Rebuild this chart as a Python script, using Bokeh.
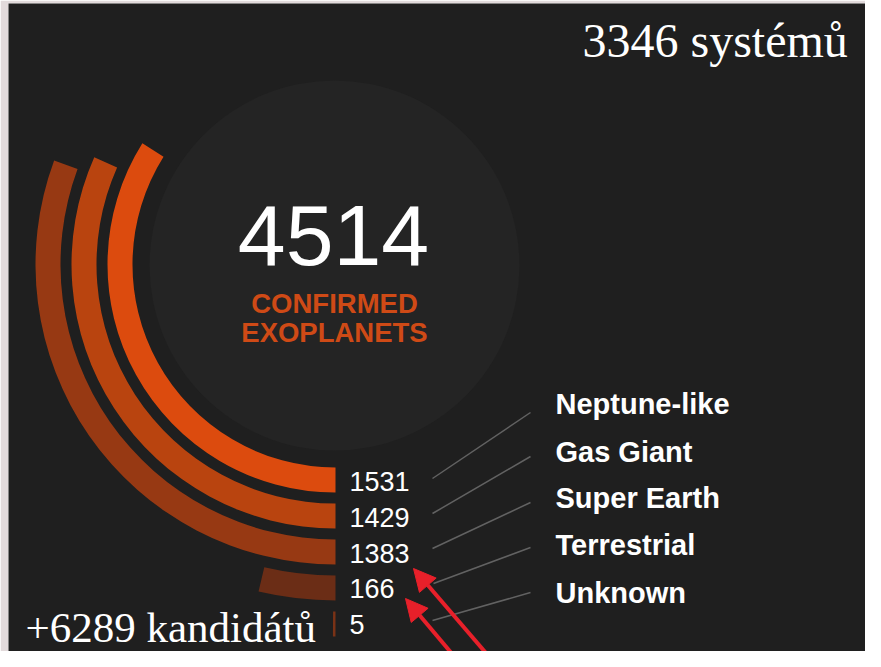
import math
from bokeh.plotting import figure
from bokeh.models import Range1d, Arrow, NormalHead, ColumnDataSource
from bokeh.core.properties import value
from bokeh.embed import file_html
from bokeh.resources import INLINE

# ---- data ----
categories = ["Neptune-like", "Gas Giant", "Super Earth", "Terrestrial", "Unknown"]
counts = [1531, 1429, 1383, 166, 5]
total_confirmed = 4514
systems_label = "3346 systémů"
candidates_label = "+6289 kandidátů"
headline = ["CONFIRMED", "EXOPLANETS"]

bar_colors = ["#dc4b0e", "#b9440f", "#973913", "#6b2d16", "#7a3216"]

W, H = 865, 651
BL, BT = 8, 3  # light page strip seen at left/top of the reference


def Y(yref):
    return 667 - yref


p = figure(width=W, height=H,
           x_range=Range1d(BL, W), y_range=Range1d(Y(H), Y(BT)),
           output_backend="svg", toolbar_location=None,
           min_border_left=BL, min_border_top=BT, min_border_right=0, min_border_bottom=0,
           x_axis_location=None, y_axis_location=None,
           background_fill_color="#1f1f1f", border_fill_color="#e2dadb",
           outline_line_color=None)
p.grid.visible = False

cx, cy = 335, Y(264)

# inner disc
p.circle(x=[334], y=[Y(265)], radius=185, fill_color="#242424", line_color=None)

# radial bars
inner = [203 + 36 * i for i in range(len(counts))]
outer = [r + 25 for r in inner]
spans = [c / total_confirmed * 2 * math.pi for c in counts]
src = ColumnDataSource(dict(
    x=[cx] * len(counts), y=[cy] * len(counts),
    inner=inner, outer=outer,
    start=[-math.pi / 2 - s for s in spans],
    end=[-math.pi / 2] * len(counts),
    color=bar_colors,
))
p.annular_wedge(x="x", y="y", inner_radius="inner", outer_radius="outer",
                start_angle="start", end_angle="end", fill_color="color",
                line_color=None, source=src)

# value labels
val_mid = [481, 517, 553, 588, 624]
p.text(x=[349] * len(counts), y=[Y(b) for b in val_mid], text=[str(c) for c in counts],
       text_font=value("Liberation Sans"), text_font_size="27px", text_color="#ffffff",
       text_align="left", text_baseline="middle")

# leader lines
lead_x0 = [432, 432, 432, 433, 432]
lead_y0 = [478, 513, 548, 583, 620]
lead_y1 = [412, 456, 502, 547, 592]
p.segment(x0=lead_x0, y0=[Y(v) for v in lead_y0], x1=[530] * 5, y1=[Y(v) for v in lead_y1],
          line_color="#626262", line_width=1.5)

# category labels
cat_mid = [403, 451, 497, 544, 592]
p.text(x=[555] * len(categories), y=[Y(b) for b in cat_mid], text=categories,
       text_font=value("Liberation Sans"), text_font_style="bold", text_font_size="29px",
       text_color="#ffffff", text_align="left", text_baseline="middle")

# center texts
p.text(x=[333], y=[Y(235)], text=[str(total_confirmed)],
       text_font=value("Liberation Sans"), text_font_size="86px", text_color="#ffffff",
       text_align="center", text_baseline="middle")
p.text(x=[334, 334], y=[Y(303), Y(332)], text=headline,
       text_font=value("Liberation Sans"), text_font_style="bold", text_font_size="27.5px",
       text_color="#cf4a16", text_align="center", text_baseline="middle")

# serif annotations
p.text(x=[582], y=[Y(40)], text=[systems_label],
       text_font=value("Liberation Serif"), text_font_size="48px", text_color="#ffffff",
       text_align="left", text_baseline="middle")
p.text(x=[25], y=[Y(627)], text=[candidates_label],
       text_font=value("Liberation Serif"), text_font_size="43px", text_color="#ffffff",
       text_align="left", text_baseline="middle")

# red arrows
for (xs, ys, xe, ye) in [(509, 680, 413, 568), (474, 680, 405, 598)]:
    p.add_layout(Arrow(end=NormalHead(size=22, fill_color="#e8202a", line_color="#e8202a"),
                       x_start=xs, y_start=Y(ys), x_end=xe, y_end=Y(ye),
                       line_color="#e8202a", line_width=4))

open("out.html", "w").write(file_html(p, INLINE))
